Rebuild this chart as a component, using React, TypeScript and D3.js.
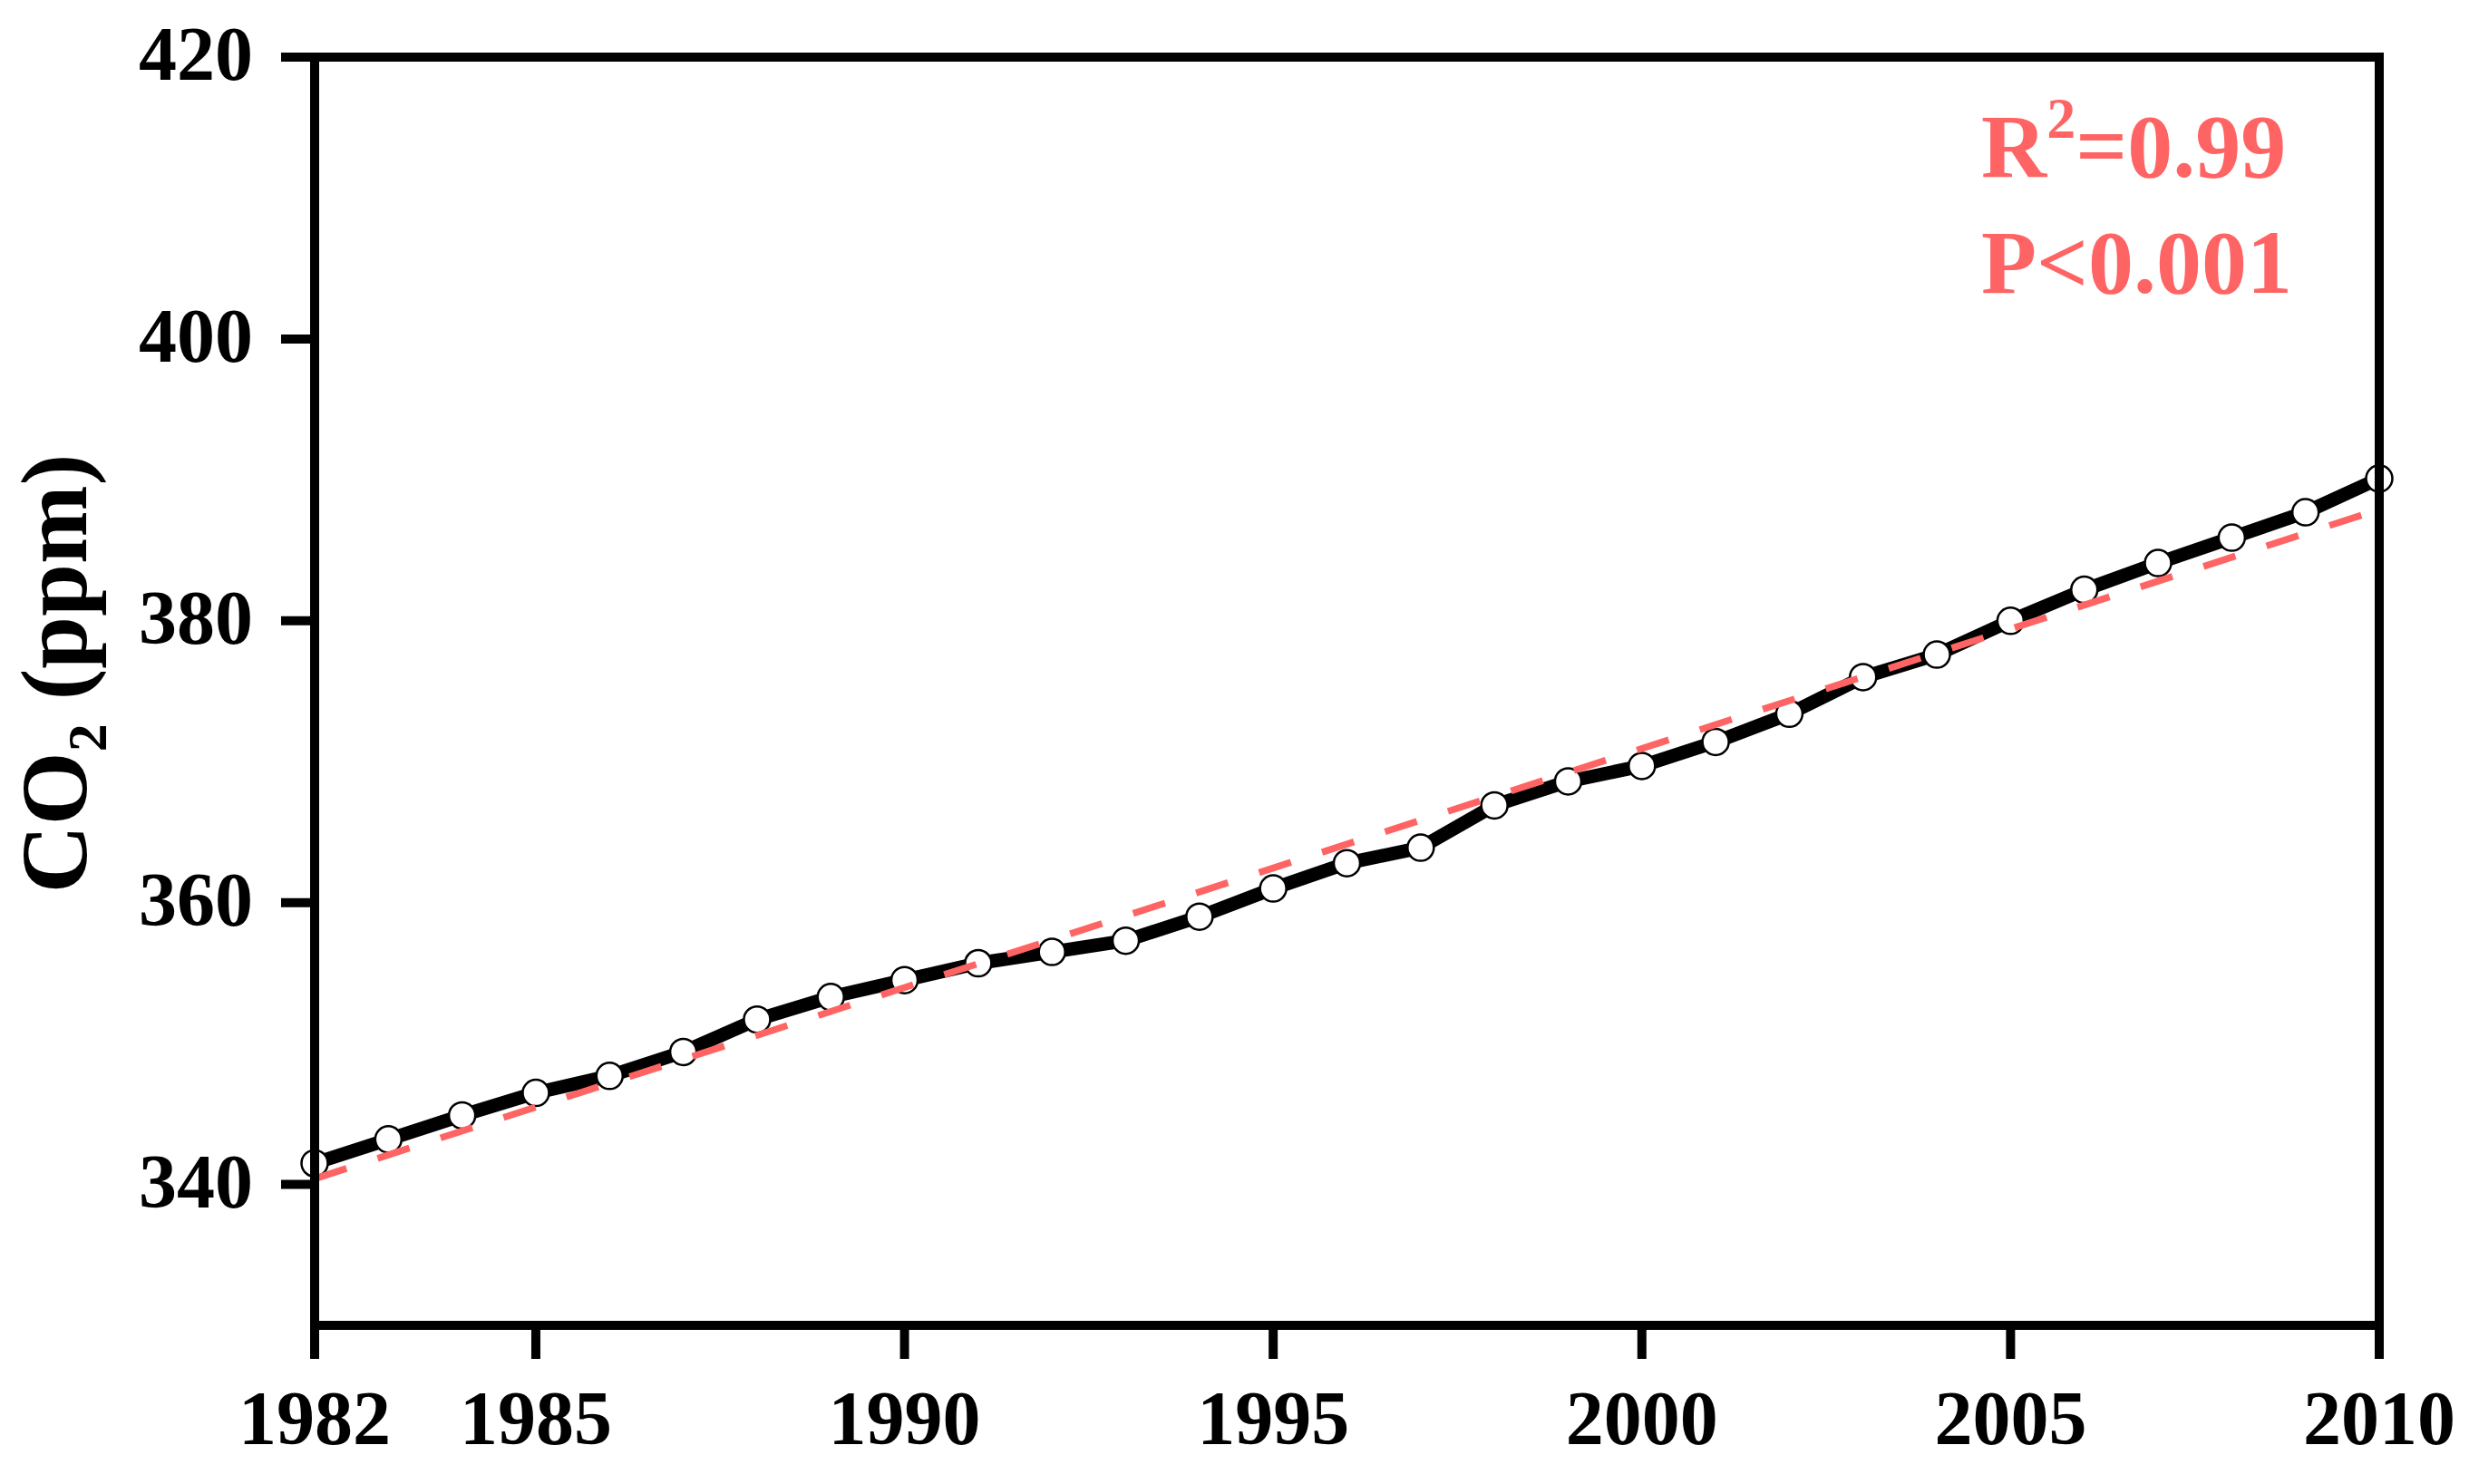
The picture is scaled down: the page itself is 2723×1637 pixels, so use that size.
import React from "react";
import * as d3 from "d3";

const years = [1982, 1983, 1984, 1985, 1986, 1987, 1988, 1989, 1990, 1991, 1992, 1993, 1994, 1995, 1996, 1997, 1998, 1999, 2000, 2001, 2002, 2003, 2004, 2005, 2006, 2007, 2008, 2009, 2010];
const co2 = [341.5, 343.2, 344.9, 346.5, 347.7, 349.4, 351.7, 353.3, 354.5, 355.7, 356.5, 357.3, 359.0, 361.0, 362.8, 363.9, 366.9, 368.6, 369.7, 371.4, 373.4, 376.0, 377.6, 380.0, 382.2, 384.1, 385.9, 387.7, 390.1];
const trendYears = [1982, 2010];
const trendValues = [340.4, 387.9];
const xTicks = [1982, 1985, 1990, 1995, 2000, 2005, 2010];
const yTicks = [340, 360, 380, 400, 420];
const annotR2 = "=0.99";
const annotP = "P<0.001";

const W = 2723;
const H = 1637;
const L = 347, R = 2624, T = 63, B = 1462;
const FONT = '"Liberation Serif", "Times New Roman", serif';
const RED = "#FF6464";

export default function App() {
  const x = d3.scaleLinear().domain([1982, 2010]).range([L, R]);
  const y = d3.scaleLinear().domain([330, 420]).range([B, T]);
  const pts = years.map((yr, i) => [yr, co2[i]] as [number, number]);
  const line = d3.line<[number, number]>().x(d => x(d[0])).y(d => y(d[1]));
  const trend = trendYears.map((yr, i) => [yr, trendValues[i]] as [number, number]);
  const tickLen = 37;

  return (
    <svg width={W} height={H} style={{ position: "absolute", left: 0, top: 0, background: "#fff" }}>
      <rect x={0} y={0} width={W} height={H} fill="#fff" />
      <path d={line(pts) || ""} fill="none" stroke="#000" strokeWidth={15} strokeLinejoin="round" />
      {pts.map((p, i) => (
        <circle key={i} cx={x(p[0])} cy={y(p[1])} r={14.5} fill="#fff" stroke="#000" strokeWidth={2.5} />
      ))}
      <path d={line(trend) || ""} fill="none" stroke={RED} strokeWidth={7.5} strokeDasharray="37,36" />
      <rect x={L} y={T} width={R - L} height={B - T} fill="none" stroke="#000" strokeWidth={10} />
      {yTicks.map(t => (
        <g key={t}>
          <line x1={L - tickLen} x2={L} y1={y(t)} y2={y(t)} stroke="#000" strokeWidth={10} />
          <text x={L - tickLen - 31} y={y(t) + 25} textAnchor="end" fontFamily={FONT} fontWeight="bold" fontSize={84} fill="#000">{t}</text>
        </g>
      ))}
      {xTicks.map(t => (
        <g key={t}>
          <line x1={x(t)} x2={x(t)} y1={B} y2={B + tickLen} stroke="#000" strokeWidth={10} />
          <text x={x(t)} y={1593} textAnchor="middle" fontFamily={FONT} fontWeight="bold" fontSize={84} fill="#000">{t}</text>
        </g>
      ))}
      <text transform={`translate(95, 743) rotate(-90)`} textAnchor="middle" fontFamily={FONT} fontWeight="bold" fontSize={104} fill="#000">
        CO<tspan fontSize={62} dy={22}>2</tspan><tspan dy={-22}> (ppm)</tspan>
      </text>
      <text x={2185} y={195} fontFamily={FONT} fontWeight="bold" fontSize={100} fill={RED}>
        R<tspan fontSize={64} dy={-43}>2</tspan><tspan dy={43}>{annotR2}</tspan>
      </text>
      <text x={2185} y={323} fontFamily={FONT} fontWeight="bold" fontSize={100} fill={RED}>{annotP}</text>
    </svg>
  );
}
